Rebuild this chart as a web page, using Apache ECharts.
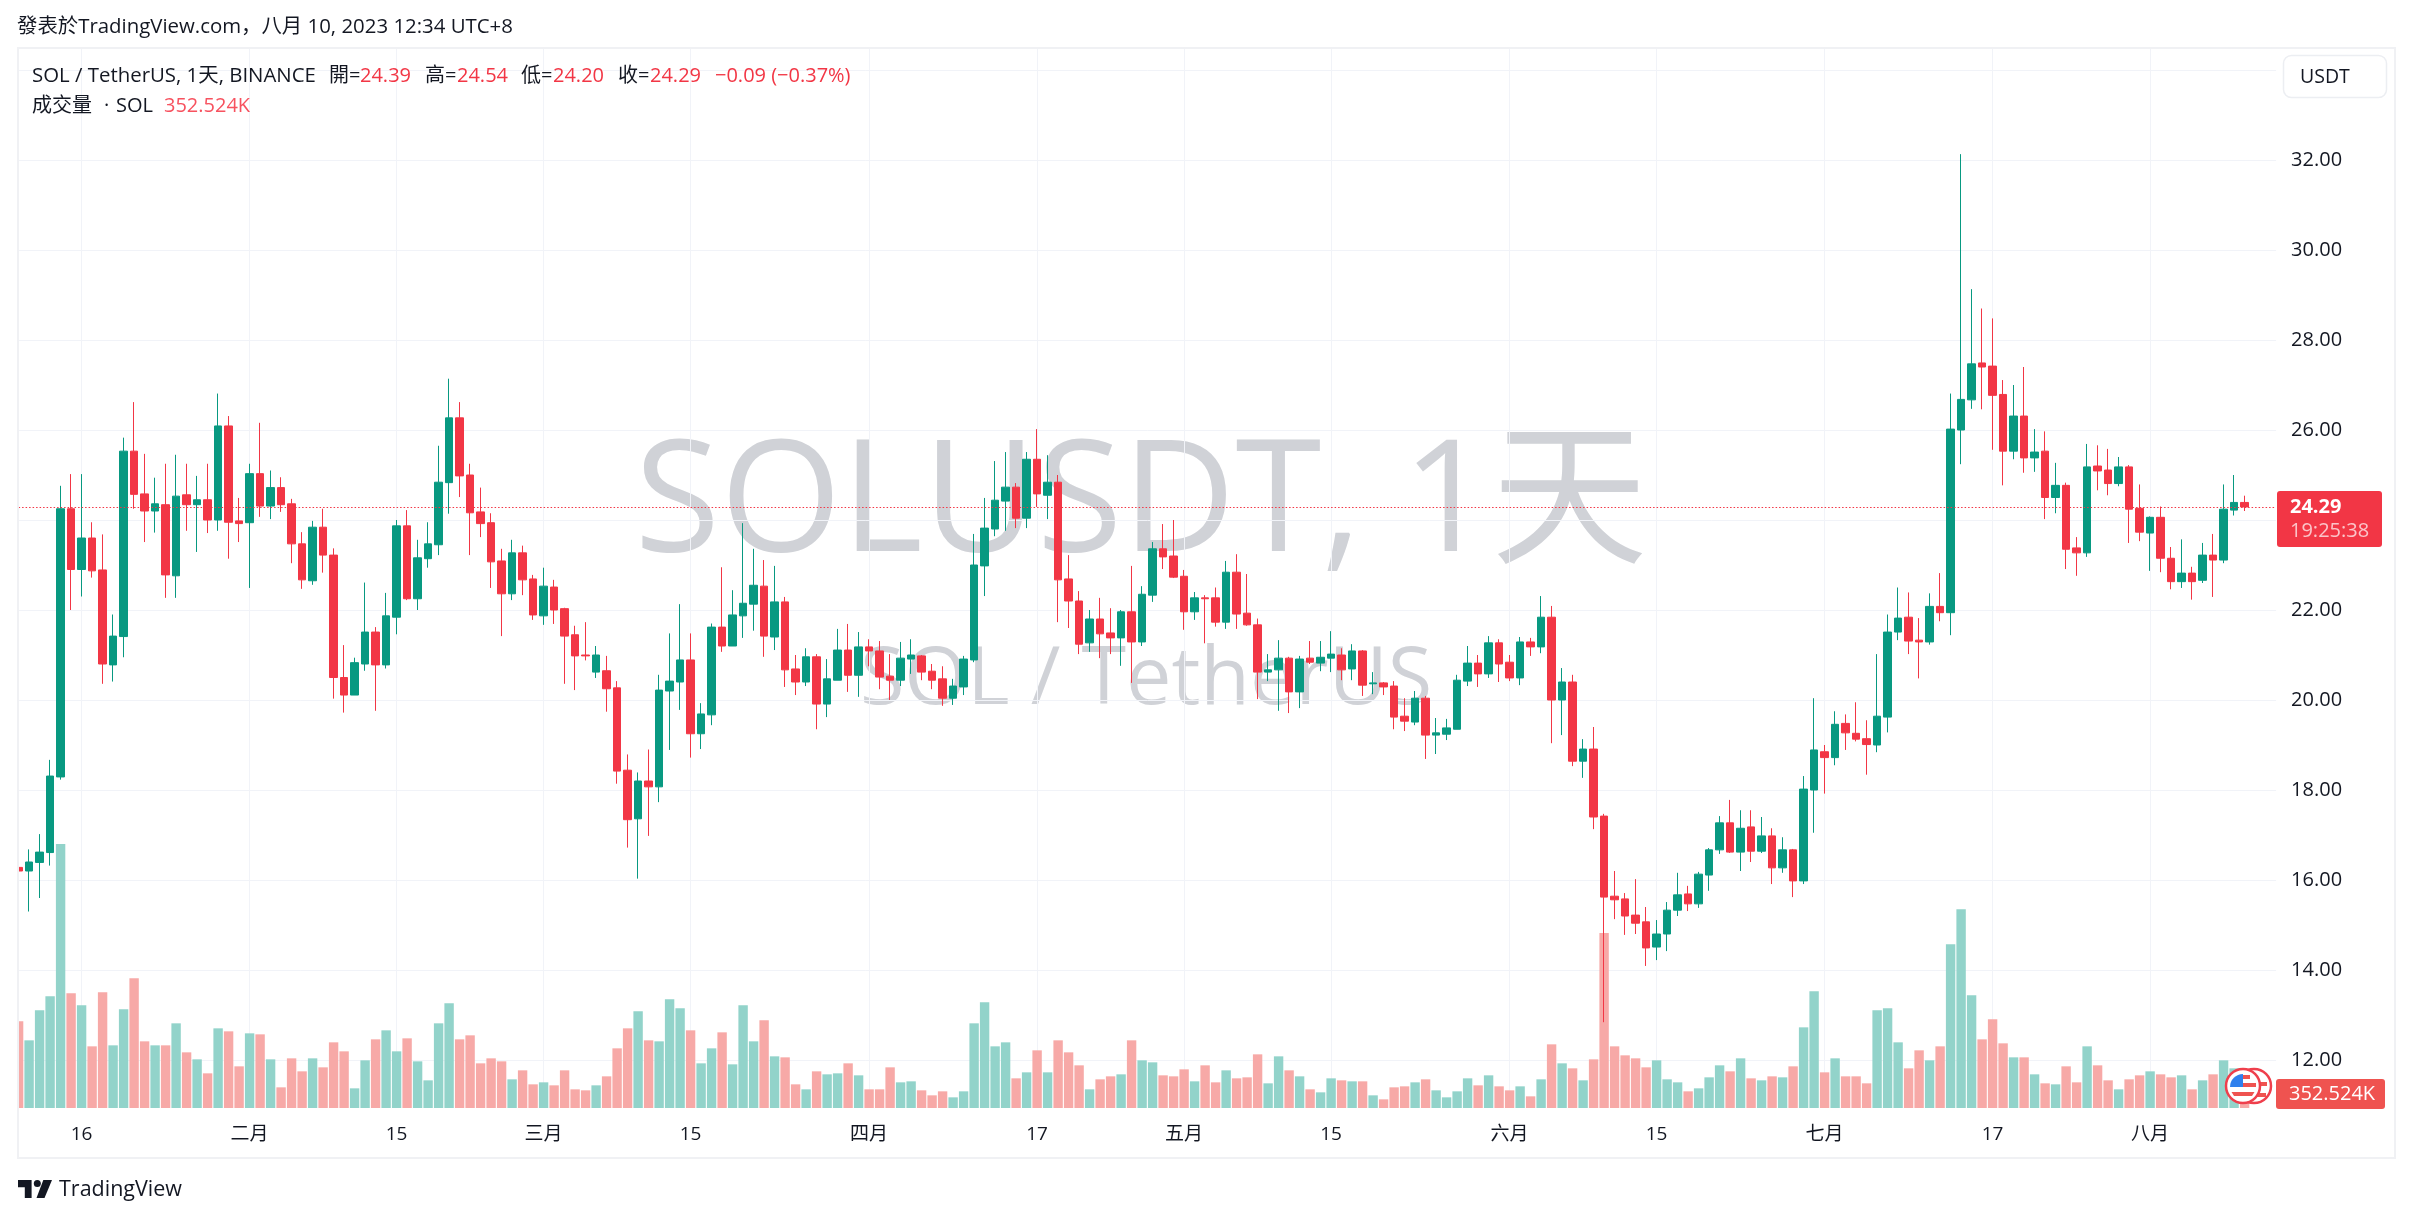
<!DOCTYPE html>
<html><head><meta charset="utf-8">
<style>html,body{margin:0;padding:0;background:#fff}#c{width:2413px;height:1219px}</style>
<script src="https://cdn.jsdelivr.net/npm/echarts@6/dist/echarts.min.js"></script>
</head><body><div id="c"></div>
<script>
const opens=[16.28,16.2,16.39,16.61,18.29,24.25,22.9,23.6,22.89,20.78,21.41,25.53,24.58,24.2,24.34,22.76,24.56,24.34,24.45,24.0,26.09,23.98,23.94,25.03,24.31,24.72,24.36,23.47,22.65,23.84,23.22,20.5,20.11,20.8,21.51,20.78,21.84,23.87,22.25,23.14,23.45,24.83,26.27,25.0,24.18,23.94,23.09,22.36,23.27,22.69,21.87,22.51,22.03,21.45,21.0,20.62,20.65,20.27,18.44,17.36,18.2,18.07,20.2,20.4,20.89,19.25,19.67,21.62,21.2,21.87,22.13,22.53,21.4,22.18,20.69,20.4,20.96,19.91,20.44,21.11,20.55,21.18,21.09,20.53,20.44,20.91,20.98,20.64,20.47,20.04,20.29,20.89,22.98,23.8,24.42,24.73,24.04,25.35,24.55,24.84,22.69,22.2,21.27,21.8,21.49,21.38,21.96,21.29,22.33,23.36,23.2,22.75,21.96,22.27,22.27,21.73,22.84,21.93,21.67,20.62,20.67,20.93,20.18,20.93,20.82,20.93,21.0,20.69,21.09,20.36,20.38,20.31,19.64,19.51,20.04,19.22,19.24,19.35,20.42,20.82,20.58,21.27,20.84,20.49,21.29,21.18,21.84,20.0,20.4,18.64,18.91,17.42,15.64,15.58,15.22,15.07,14.51,14.8,15.33,15.69,15.47,16.11,16.67,17.27,16.62,17.18,16.64,16.98,16.27,16.67,15.98,18.0,18.85,18.72,19.48,19.26,19.14,19.0,19.62,21.51,21.84,21.33,21.29,22.08,21.94,26.0,26.67,27.49,27.42,26.79,25.53,26.31,25.38,25.53,24.5,24.77,23.38,23.27,25.2,25.11,24.81,25.18,24.26,23.71,24.06,23.15,22.63,22.82,22.66,23.22,23.11,24.22,24.39];
const closes=[16.2,16.4,16.62,18.31,24.25,22.9,23.6,22.87,20.8,21.42,25.53,24.57,24.2,24.36,22.78,24.53,24.34,24.45,24.0,26.09,23.95,23.92,25.03,24.31,24.72,24.34,23.47,22.67,23.84,23.22,20.5,20.11,20.83,21.51,20.78,21.87,23.87,22.25,23.16,23.47,24.84,26.27,24.98,24.16,23.92,23.07,22.36,23.27,22.67,21.89,22.53,22.0,21.42,20.98,20.98,21.0,20.25,18.42,17.34,18.2,18.07,20.22,20.42,20.89,19.25,19.69,21.62,21.2,21.89,22.15,22.55,21.42,22.18,20.67,20.4,20.96,19.91,20.47,21.11,20.55,21.18,21.09,20.51,20.44,20.93,21.0,20.62,20.44,20.04,20.31,20.91,23.0,23.82,24.44,24.73,24.04,25.35,24.58,24.84,22.67,22.2,21.24,21.8,21.47,21.38,21.96,21.29,22.35,23.36,23.18,22.73,21.96,22.27,22.25,21.73,22.84,21.91,21.67,20.62,20.67,20.93,20.18,20.91,20.84,20.95,21.02,20.67,21.09,20.33,20.38,20.29,19.62,19.53,20.04,19.22,19.27,19.38,20.44,20.82,20.58,21.27,20.8,20.49,21.29,21.18,21.84,20.0,20.4,18.64,18.91,17.4,15.62,15.56,15.2,15.04,14.49,14.8,15.33,15.67,15.47,16.13,16.67,17.27,16.62,17.15,16.64,16.98,16.27,16.67,15.98,18.02,18.89,18.72,19.46,19.27,19.13,19.01,19.64,21.51,21.82,21.31,21.29,22.08,21.94,26.02,26.68,27.47,27.4,26.77,25.53,26.31,25.38,25.51,24.5,24.77,23.35,23.27,25.18,25.09,24.81,25.18,24.24,23.73,24.06,23.15,22.63,22.82,22.63,23.22,23.11,24.24,24.39,24.29];
const lows=[15.59,15.3,15.6,16.32,18.23,22.0,22.3,22.72,20.36,20.41,20.95,24.25,23.51,23.72,22.27,22.27,23.76,23.29,23.71,23.76,23.14,23.51,22.49,24.07,24.02,24.18,23.04,22.47,22.56,22.83,20.03,19.72,20.11,20.65,19.76,20.7,21.46,22.22,22.0,22.94,23.22,24.14,24.51,23.22,23.62,22.49,21.42,22.22,22.33,21.78,21.67,21.69,20.36,20.22,20.88,20.49,19.74,18.14,16.72,16.03,16.98,17.73,18.89,19.78,18.72,18.91,19.44,21.07,21.2,21.38,21.54,20.96,21.11,20.29,20.11,20.31,19.35,19.62,20.44,20.18,20.07,20.75,20.24,20.0,20.31,20.58,20.44,20.24,19.87,19.89,20.11,20.84,22.31,23.64,23.76,23.82,23.82,24.29,24.02,21.73,21.6,21.02,21.07,20.93,21.02,20.76,20.38,21.2,22.18,22.91,22.71,21.56,21.78,21.26,21.63,21.58,21.58,21.65,20.02,20.42,19.76,19.71,19.82,20.8,20.64,20.62,20.44,20.44,20.09,20.13,20.11,19.35,19.31,19.44,18.69,18.8,19.11,19.35,20.31,20.29,20.49,20.4,20.42,20.33,20.98,21.04,19.04,19.22,18.53,18.27,17.13,12.84,15.13,14.78,14.8,14.09,14.22,14.42,15.2,15.31,15.38,15.76,16.58,16.6,16.2,16.4,16.6,15.91,16.16,15.62,15.91,17.05,17.92,18.55,18.89,19.08,18.34,18.84,19.28,21.33,21.02,20.48,21.23,21.75,21.44,25.24,26.47,26.46,25.56,24.77,25.35,25.05,25.07,24.02,24.15,22.91,22.76,23.18,24.66,24.55,24.75,23.49,23.53,22.87,22.84,22.46,22.49,22.23,22.6,22.29,23.04,24.1,24.2];
const highs=[16.76,16.68,17.02,18.67,24.76,25.02,25.02,23.95,23.68,21.9,25.83,26.62,25.47,24.94,25.25,25.45,25.25,24.98,25.25,26.81,26.31,24.49,25.25,26.16,25.1,24.95,24.47,23.73,23.98,24.25,23.37,21.22,20.94,22.61,21.62,22.38,24.0,24.22,23.56,23.95,25.65,27.14,26.62,25.25,24.72,24.15,23.36,23.56,23.43,22.78,22.94,22.67,22.05,21.65,21.73,21.2,20.98,20.42,18.79,18.39,18.9,20.56,21.48,22.13,21.48,19.93,21.7,22.95,22.44,23.93,23.36,23.11,22.98,22.29,21.0,21.15,21.02,20.91,21.58,21.69,21.51,21.35,21.31,21.02,21.29,21.35,21.0,20.8,20.75,20.47,20.98,23.69,24.49,25.31,25.51,24.82,25.51,26.02,25.44,25.0,23.22,22.42,22.0,22.27,22.04,22.0,22.98,22.53,23.51,23.91,24.0,22.89,22.4,22.33,22.5,23.09,23.24,22.8,21.81,21.02,21.33,20.96,20.98,21.31,21.31,21.53,21.15,21.24,21.11,20.62,20.4,20.42,20.04,20.2,20.09,19.6,19.58,20.56,21.2,21.0,21.42,21.35,21.0,21.4,21.38,22.31,22.09,20.71,20.56,19.13,19.4,17.47,16.2,15.71,16.02,15.4,15.11,15.51,16.16,15.87,16.18,16.71,17.42,17.78,17.55,17.55,17.4,17.15,16.95,16.69,18.31,20.04,19.0,19.75,19.68,19.95,19.55,21.02,21.9,22.5,22.39,21.82,22.37,22.82,26.81,32.13,29.13,28.7,28.48,27.11,27.0,27.4,26.02,25.97,25.27,24.83,23.62,25.69,25.66,25.58,25.4,25.22,24.79,24.08,24.3,23.4,23.57,22.96,23.49,23.69,24.79,25.0,24.54];
const volumesK=[5200,4060,5860,6700,15840,6880,6160,3700,6940,3760,5920,7780,4000,3760,3760,5080,3340,2920,2080,4780,4600,2500,4480,4420,2920,1240,2980,2200,2980,2440,3940,3400,1180,2860,4120,4660,3400,4180,2800,1660,5080,6280,4120,4360,2680,2980,2800,1720,2260,1420,1540,1360,2260,1120,1060,1360,1900,3580,4780,5800,4060,4000,6520,5980,4660,2680,3580,4540,2620,6160,4000,5260,3100,3040,1420,1120,2200,2020,2080,2680,1960,1120,1120,2440,1540,1600,1060,760,1000,640,1000,5080,6340,3700,3940,1780,2140,3460,2140,4060,3340,2560,1120,1720,1900,2020,4060,2860,2740,1960,1900,2320,1600,2560,1540,2260,1780,1840,3220,1480,3100,2260,1900,1120,940,1780,1660,1600,1600,760,520,1240,1300,1540,1720,1060,640,1000,1780,1360,1960,1300,1060,1300,700,1720,3820,2680,2380,1660,2920,10500,3700,3160,2980,2440,2860,1720,1540,1000,1180,1840,2560,2200,2980,1780,1660,1900,1840,2500,4840,7000,2140,2980,1900,1900,1480,5860,5980,3940,2380,3460,2860,3700,9820,11920,6760,4120,5320,3880,3040,3040,2020,1480,1420,2500,1540,3700,2560,1660,1120,1720,1960,2200,2020,1840,1960,1120,1660,2020,2860,2380,352.524];
const tickIndexes=[6,22,36,50,64,81,97,111,125,142,156,172,188,203];
const tickLabels=['16','二月','15','三月','15','四月','17','五月','15','六月','15','七月','17','八月'];
const lastClose=24.29;
const blankSlots=3;

const categories=[];
for(let i=0;i<opens.length+blankSlots;i++){
  categories.push(new Date(Date.UTC(2023,0,10+i)).toISOString().slice(0,10));
}
const FONT="'Open Sans','Noto Sans CJK SC',sans-serif";
const INK='#131722',RED='#f23645',GREEN='#089981';
const candleData=opens.map((o,i)=>[o,closes[i],lows[i],highs[i]]);
const volumeData=volumesK.map((v,i)=>({value:v,itemStyle:{color:closes[i]>=opens[i]?'#92d3ca':'#f7a9a7'}}));
const isTick=i=>tickIndexes.indexOf(i)>=0;

function txt(text,x,y,size,fill,weight){
  return {type:'text',z:20,silent:true,style:{text,x,y,fill,font:(weight?weight+' ':'')+size+'px '+FONT,textVerticalAlign:'middle'}};
}
const graphics=[
  {type:'text',z:0,silent:true,style:{text:'SOLUSDT, 1天',x:1141,y:507,fill:'#d0d2d7',font:"156px "+FONT,textAlign:'center',textVerticalAlign:'middle'}},
  {type:'text',z:0,silent:true,style:{text:'SOL / TetherUS',x:1146,y:681,fill:'#d0d2d7',font:"81px "+FONT,textAlign:'center',textVerticalAlign:'middle'}},
  {type:'rect',z:5,silent:true,shape:{x:0,y:40,width:18,height:1125},style:{fill:'#fff'}},
  {type:'rect',z:6,silent:true,shape:{x:18,y:48,width:2377,height:1110},style:{fill:'none',stroke:'#f0f1f4',lineWidth:2}},
  txt('發表於TradingView.com，八月 10, 2023 12:34 UTC+8',17,27,20.4,INK),
  txt('SOL / TetherUS, 1天, BINANCE',32,76,20.4,INK),
  txt('開=',329,76,20,INK),txt('24.39',360,76,20,RED),
  txt('高=',425,76,20,INK),txt('24.54',457,76,20,RED),
  txt('低=',521,76,20,INK),txt('24.20',553,76,20,RED),
  txt('收=',618,76,20,INK),txt('24.29',650,76,20,RED),
  txt('−0.09 (−0.37%)',715,76,20,RED),
  txt('成交量',32,106,20,INK),txt('·',104,106,20,INK),txt('SOL',116,106,20,INK),txt('352.524K',164,106,20,'#f7525f'),
  {type:'rect',z:20,silent:true,shape:{x:2283.5,y:55.5,width:103,height:42,r:8},style:{fill:'#fff',stroke:'#eceef2',lineWidth:1.5}},
  txt('USDT',2300,77,19.5,INK),
  {type:'rect',z:20,silent:true,shape:{x:2277,y:491,width:105,height:56,r:3},style:{fill:RED}},
  txt('24.29',2290,507,20,'#fff','bold'),
  txt('19:25:38',2290,531,20,'#fbc4c8'),
  {type:'rect',z:20,silent:true,shape:{x:2276,y:1079,width:109,height:30,r:3},style:{fill:'#ef5350'}},
  txt('352.524K',2289,1094,20,'#fff'),
  {type:'circle',z:20,silent:true,shape:{cx:2254,cy:1086,r:17},style:{fill:'#fff',stroke:'#ef3f4c',lineWidth:2.5}},
  {type:'rect',z:20,silent:true,shape:{x:2258,y:1082,width:9,height:4},style:{fill:'#ef5350'}},
  {type:'rect',z:20,silent:true,shape:{x:2256,y:1093,width:10,height:4},style:{fill:'#ef5350'}},
  {type:'circle',z:21,silent:true,shape:{cx:2243,cy:1086,r:17},style:{fill:'#fff',stroke:'#ef3f4c',lineWidth:2.5}},
  {type:'sector',z:21,silent:true,shape:{cx:2243,cy:1087,r0:0,r:13,startAngle:Math.PI,endAngle:1.5*Math.PI},style:{fill:'#2f80ed'}},
  {type:'rect',z:21,silent:true,shape:{x:2243,y:1075,width:7,height:4},style:{fill:'#ef5350'}},
  {type:'rect',z:21,silent:true,shape:{x:2243,y:1083,width:13,height:4},style:{fill:'#ef5350'}},
  {type:'polygon',z:21,silent:true,shape:{points:[[2231.5,1092],[2254.5,1092],[2252,1096],[2234,1096]]},style:{fill:'#ef5350'}},
  {type:'polygon',z:20,silent:true,shape:{points:[[18,1180],[31.6,1180],[31.6,1198],[24.8,1198],[24.8,1187.2],[18,1187.2]]},style:{fill:INK}},
  {type:'circle',z:20,silent:true,shape:{cx:37.3,cy:1183.6,r:3.5},style:{fill:INK}},
  {type:'polygon',z:20,silent:true,shape:{points:[[44.5,1198],[36.5,1198],[43.3,1180],[52,1180]]},style:{fill:INK}},
  txt('TradingView',59,1190,21.5,INK)
];

const chart=echarts.init(document.getElementById('c'),null,{renderer:'canvas'});
chart.setOption({
  animation:false,
  backgroundColor:'#fff',
  textStyle:{fontFamily:FONT},
  graphic:{elements:graphics},
  grid:[
    {left:18.6,right:136.9,top:70,bottom:159},
    {left:18.6,right:136.9,top:48,bottom:111}
  ],
  xAxis:[
    {type:'category',gridIndex:0,data:categories,boundaryGap:false,show:false},
    {type:'category',gridIndex:1,data:categories,boundaryGap:false,
     axisLine:{show:false},axisTick:{show:false},
     splitLine:{show:true,interval:(i)=>isTick(i),lineStyle:{color:'#f1f3f8',width:1}},
     axisLabel:{interval:(i)=>isTick(i),formatter:(v,i)=>{const k=tickIndexes.indexOf(i);return k>=0?tickLabels[k]:'';},
       color:INK,fontSize:19,fontFamily:FONT,margin:17}}
  ],
  yAxis:[
    {type:'value',gridIndex:0,position:'right',min:12,max:34,interval:2,
     axisLine:{show:false},axisTick:{show:false},
     splitLine:{show:true,lineStyle:{color:'#f1f3f8',width:1}},
     axisLabel:{color:INK,fontSize:20,fontFamily:FONT,margin:15,padding:[5,0,0,0],
       formatter:v=>v>=34?'':v.toFixed(2)}},
    {type:'value',gridIndex:1,min:0,max:63600,show:false,splitLine:{show:false}}
  ],
  series:[
    {type:'bar',name:'成交量',xAxisIndex:1,yAxisIndex:1,data:volumeData,barWidth:9.4,z:1,silent:true},
    {type:'candlestick',name:'SOL / TetherUS',xAxisIndex:0,yAxisIndex:0,data:candleData,barWidth:8,z:3,silent:true,
     itemStyle:{color:GREEN,color0:RED,borderColor:GREEN,borderColor0:RED,borderWidth:1},
     markLine:{silent:true,symbol:'none',label:{show:false},animation:false,
       lineStyle:{color:RED,type:[1.5,2],width:1.2},data:[{yAxis:lastClose}]}}
  ]
});
</script></body></html>
